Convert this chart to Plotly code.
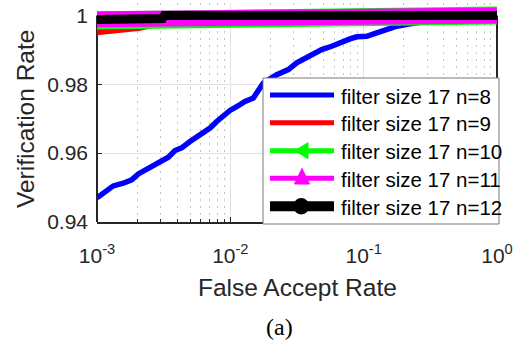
import plotly.graph_objects as go

# ---------------- data ----------------
far_n8 = [0.001, 0.001324, 0.001574, 0.00182, 0.002042, 0.002427, 0.002723, 0.003055,
          0.003428, 0.003846, 0.004315, 0.004984, 0.005598, 0.006457, 0.00704, 0.007907,
          0.008859, 0.009943, 0.01148, 0.01288, 0.01488, 0.01622, 0.01768, 0.02228,
          0.02723, 0.03148, 0.03527, 0.04074, 0.04842, 0.05754, 0.06644, 0.07898,
          0.08872, 0.1054, 0.1253, 0.1445, 0.177, 0.2226, 0.2802, 0.3736, 0.5284, 1.0]
vr_n8 = [0.9470, 0.95048, 0.95127, 0.95223, 0.95397, 0.95563, 0.95630, 0.95776,
         0.95883, 0.96076, 0.96154, 0.96338, 0.96466, 0.96600, 0.96728, 0.96920,
         0.97086, 0.97240, 0.97377, 0.97502, 0.97601, 0.97793, 0.98038, 0.98279,
         0.98425, 0.98620, 0.98716, 0.98861, 0.99007, 0.99103, 0.99220, 0.99318,
         0.99377, 0.99394, 0.99493, 0.99589, 0.99685, 0.99755, 0.99802, 0.9988, 0.9997, 1.0]

far_n9 = [0.001, 0.00144, 0.0021, 0.003, 0.005, 0.01, 0.03, 1.0]
vr_n9 = [0.9951, 0.9957, 0.9964, 0.9978, 0.9992, 0.9998, 1.0, 1.0]

far_n10 = [0.001, 0.0016, 0.0032, 0.0073, 0.013, 1.0]
vr_n10 = [0.9985, 0.9986, 0.9988, 0.9996, 1.0, 1.0]

far_n11 = [0.001, 0.0014, 0.0025, 0.0038, 0.013, 1.0]
vr_n11 = [0.9989, 0.9989, 0.9994, 0.9998, 1.0, 1.0]

far_n12 = [0.001, 0.00155, 0.0016, 0.0031, 0.0032, 1.0]
vr_n12 = [0.9988, 0.9988, 0.9991, 0.9991, 1.0, 1.0]

series_names = ["filter size 17 n=8", "filter size 17 n=9", "filter size 17 n=10",
                "filter size 17 n=11", "filter size 17 n=12"]
series_colors = ["#0000ff", "#ff0000", "#00ff00", "#ff00ff", "#000000"]

x_tick_vals = [0.001, 0.01, 0.1, 1.0]
x_tick_text = ["10<sup>-3</sup>", "10<sup>-2</sup>", "10<sup>-1</sup>", "10<sup>0</sup>"]
x_minor_vals = [m * d for d in [0.001, 0.01, 0.1] for m in range(2, 10)]
y_tick_vals = [0.94, 0.96, 0.98, 1.0]
y_tick_text = ["0.94", "0.96", "0.98", "1"]

# ---------------- layout geometry (pixels) ----------------
W, H = 522, 347
L, R, T, B = 97, 497, 3, 222   # plot area in pixels


def px(xp):
    return (xp - L) / (R - L)


def py(yp):
    return (B - yp) / (B - T)


TXT = "#262626"
FONT = "Liberation Sans, Arial, sans-serif"

fig = go.Figure()

xs = [far_n8, far_n9, far_n10, far_n11, far_n12]
ys = [vr_n8, vr_n9, vr_n10, vr_n11, vr_n12]
widths = [5.5, 6, 18, 16, 9]
for x, y, c, w, n in zip(xs, ys, series_colors, widths, series_names):
    fig.add_trace(go.Scatter(x=x, y=y, mode="lines", name=n,
                             line=dict(color=c, width=w), showlegend=False,
                             hoverinfo="skip"))

shapes = []
# spines (left / right) under the traces
for xv in (0, 1):
    shapes.append(dict(type="line", xref="paper", yref="y", x0=xv, x1=xv, y0=0.94, y1=1.0,
                       line=dict(color=TXT, width=2), layer="between"))

# custom legend
box = dict(x0=263, x1=499, y0=78, y1=224)
shapes.append(dict(type="rect", xref="paper", yref="paper",
                   x0=px(box["x0"]), x1=px(box["x1"]), y0=py(box["y1"]), y1=py(box["y0"]),
                   line=dict(color="#7a7a7a", width=1), fillcolor="white", layer="above"))
rows = [95, 122.7, 150.7, 178.3, 206.3]
leg_w = [5, 5, 5, 5, 10]
annotations = []
for r, c, w, n in zip(rows, series_colors, leg_w, series_names):
    shapes.append(dict(type="line", xref="paper", yref="paper", x0=px(270), x1=px(334),
                       y0=py(r), y1=py(r), line=dict(color=c, width=w), layer="above"))
    annotations.append(dict(x=px(339), y=py(r + 1), xref="paper", yref="paper", text=n,
                            showarrow=False, xanchor="left", yanchor="middle",
                            font=dict(size=20.5, color="#000000", family=FONT)))


def tri(pts):
    return "M " + " L ".join(f"{px(a):.5f},{py(b):.5f}" for a, b in pts) + " Z"


shapes.append(dict(type="path", xref="paper", yref="paper",
                   path=tri([(295, 150.7), (308, 142.7), (308, 158.7)]),
                   fillcolor="#00ff00", line=dict(color="#00ff00", width=1), layer="above"))
shapes.append(dict(type="path", xref="paper", yref="paper",
                   path=tri([(302, 168.5), (294.5, 184), (309.5, 184)]),
                   fillcolor="#ff00ff", line=dict(color="#ff00ff", width=1), layer="above"))
shapes.append(dict(type="circle", xref="paper", yref="paper",
                   x0=px(293.5), x1=px(309), y0=py(214), y1=py(198.5),
                   fillcolor="#000000", line=dict(color="#000000", width=1), layer="above"))

# axis titles and caption
annotations.append(dict(x=0.5, y=py(287), xref="paper", yref="paper", text="False Accept Rate",
                        showarrow=False, xanchor="center", yanchor="middle",
                        font=dict(size=24.5, color=TXT, family=FONT)))
annotations.append(dict(x=px(25), y=py(119), xref="paper", yref="paper", text="Verification Rate",
                        showarrow=False, xanchor="center", yanchor="middle", textangle=-90,
                        font=dict(size=24.5, color=TXT, family=FONT)))
annotations.append(dict(x=px(279), y=py(327), xref="paper", yref="paper", text="(a)",
                        showarrow=False, xanchor="center", yanchor="middle",
                        font=dict(size=24, color="#000000",
                                  family="Liberation Serif, Times New Roman, serif")))

fig.update_layout(
    width=W, height=H,
    margin=dict(l=L, r=W - R, t=T, b=H - B),
    paper_bgcolor="white", plot_bgcolor="white",
    showlegend=False,
    shapes=shapes, annotations=annotations,
    font=dict(family=FONT, color=TXT, size=21),
)
fig.update_xaxes(
    type="log", range=[-3, 0],
    tickmode="array", tickvals=x_tick_vals, ticktext=x_tick_text,
    ticks="inside", ticklen=5, tickwidth=1, tickcolor=TXT,
    showgrid=True, gridcolor="#e2e2e2", gridwidth=1,
    showline=True, linecolor=TXT, linewidth=2, mirror=False,
    zeroline=False, ticklabelstandoff=14,
    tickfont=dict(size=21, color=TXT, family=FONT),
    minor=dict(tickmode="array", tickvals=x_minor_vals, ticks="inside", ticklen=3,
               tickcolor=TXT, showgrid=True, gridcolor="#c4c4c4", griddash="2px,5px",
               gridwidth=1),
)
fig.update_yaxes(
    range=[0.94, 1.0036],
    tickmode="array", tickvals=y_tick_vals, ticktext=y_tick_text,
    ticks="inside", ticklen=5, tickwidth=1, tickcolor=TXT,
    showgrid=True, gridcolor="#e2e2e2", gridwidth=1,
    showline=False, zeroline=False, ticklabelstandoff=8,
    tickfont=dict(size=21, color=TXT, family=FONT),
)

fig.write_html("out.html", config={"displayModeBar": False},
               post_script="document.body.style.margin='0px';")
